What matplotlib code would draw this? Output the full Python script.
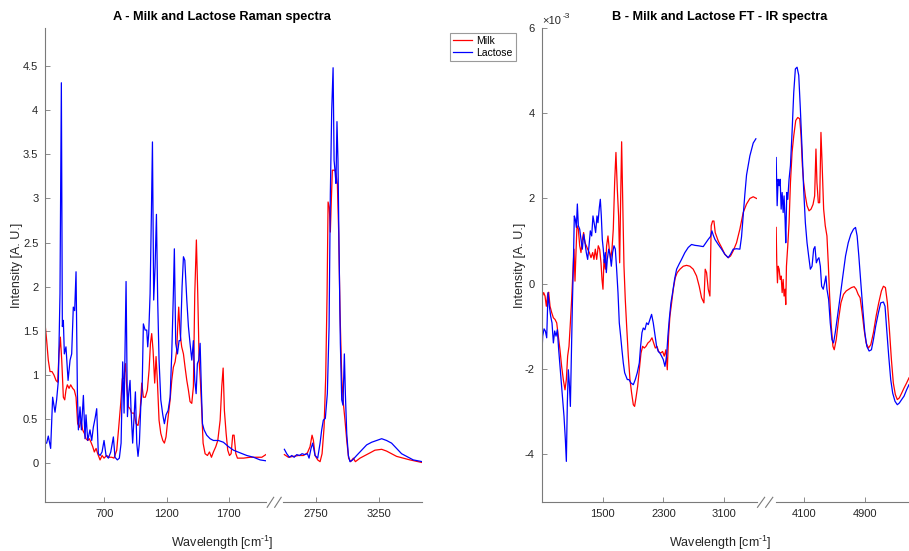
import numpy as np
import matplotlib
matplotlib.use('Agg')
import matplotlib.pyplot as plt
from matplotlib.lines import Line2D

plt.rcParams['font.family'] = ['Liberation Sans', 'DejaVu Sans']
plt.rcParams['axes.unicode_minus'] = False
plt.rcParams['mathtext.fontset'] = 'custom'
plt.rcParams['mathtext.rm'] = 'Liberation Sans'
plt.rcParams['mathtext.it'] = 'Liberation Sans:italic'
plt.rcParams['mathtext.bf'] = 'Liberation Sans:bold'

# ---- Raman (panel A) -------------------------------------------------------
raman_milk_x_lo = [224, 237, 250, 264, 280, 296, 312, 325, 336, 347,
                   358, 371, 382, 392, 403, 417, 430, 446, 459, 473,
                   486, 500, 513, 526, 540, 553, 567, 580, 593, 607,
                   620, 634, 647, 666, 682, 698, 719, 741, 760, 778,
                   800, 816, 832, 845, 856, 870, 880, 894, 907, 920,
                   939, 955, 971, 987, 1001, 1014, 1030, 1046, 1060, 1071,
                   1081, 1092, 1105, 1116, 1127, 1140, 1154, 1170, 1183, 1196,
                   1210, 1229, 1242, 1255, 1269, 1282, 1290, 1298, 1309, 1322,
                   1336, 1349, 1363, 1376, 1389, 1403, 1416, 1427, 1440, 1451,
                   1462, 1472, 1483, 1494, 1510, 1529, 1545, 1561, 1577, 1596,
                   1612, 1631, 1644, 1655, 1665, 1679, 1692, 1706, 1719, 1732,
                   1743, 1757, 1770, 1818, 1872, 1925, 1966, 1998]
raman_milk_y_lo = [1.58, 1.39, 1.17, 1.04, 1.04, 1.00, 0.94, 0.92, 1.24, 1.43,
                   1.17, 0.75, 0.72, 0.83, 0.89, 0.85, 0.89, 0.85, 0.83, 0.75,
                   0.45, 0.41, 0.49, 0.38, 0.34, 0.28, 0.26, 0.28, 0.24, 0.19,
                   0.13, 0.17, 0.11, 0.04, 0.09, 0.06, 0.09, 0.07, 0.07, 0.06,
                   0.15, 0.41, 0.68, 0.96, 0.96, 1.13, 0.87, 0.64, 0.62, 0.57,
                   0.57, 0.45, 0.43, 0.57, 0.91, 0.75, 0.75, 0.83, 1.06, 1.36,
                   1.47, 1.28, 0.91, 1.21, 0.92, 0.49, 0.34, 0.26, 0.23, 0.30,
                   0.49, 0.72, 0.94, 1.09, 1.15, 1.28, 1.55, 1.77, 1.47, 1.32,
                   1.24, 1.09, 0.94, 0.83, 0.70, 0.68, 0.87, 1.92, 2.53, 1.92,
                   1.17, 0.94, 0.60, 0.23, 0.11, 0.09, 0.13, 0.07, 0.13, 0.19,
                   0.26, 0.49, 0.87, 1.08, 0.60, 0.34, 0.15, 0.09, 0.11, 0.32,
                   0.32, 0.11, 0.06, 0.06, 0.07, 0.07, 0.07, 0.10]

raman_lact_x_lo = [224, 237, 250, 269, 285, 304, 317, 331, 344, 355,
                   363, 371, 379, 392, 409, 425, 438, 451, 462, 473,
                   484, 492, 505, 516, 532, 545, 553, 567, 585, 599,
                   612, 626, 639, 652, 666, 682, 698, 714, 733, 752,
                   773, 786, 805, 821, 835, 848, 859, 875, 886, 896,
                   907, 915, 928, 942, 950, 961, 971, 982, 993, 1004,
                   1014, 1028, 1041, 1049, 1057, 1068, 1079, 1087, 1097, 1108,
                   1119, 1129, 1140, 1154, 1170, 1183, 1196, 1213, 1229, 1242,
                   1255, 1263, 1274, 1288, 1301, 1312, 1325, 1336, 1347, 1363,
                   1376, 1389, 1403, 1416, 1427, 1438, 1448, 1459, 1470, 1481,
                   1489, 1502, 1523, 1550, 1577, 1617, 1657, 1698, 1738, 1791,
                   1845, 1899, 1952, 1998]
raman_lact_y_lo = [0.23, 0.23, 0.31, 0.17, 0.75, 0.58, 0.72, 0.94, 1.92, 4.31,
                   1.55, 1.62, 1.24, 1.32, 0.94, 1.17, 1.24, 1.77, 1.73, 2.17,
                   0.79, 0.38, 0.64, 0.38, 0.77, 0.28, 0.55, 0.26, 0.38, 0.26,
                   0.41, 0.51, 0.62, 0.11, 0.09, 0.13, 0.26, 0.09, 0.06, 0.13,
                   0.30, 0.07, 0.04, 0.06, 0.23, 1.15, 0.57, 2.06, 0.53, 0.79,
                   0.94, 0.60, 0.23, 0.60, 0.81, 0.23, 0.08, 0.23, 0.64, 0.83,
                   1.58, 1.51, 1.51, 1.32, 1.47, 1.92, 2.87, 3.64, 1.85, 2.22,
                   2.82, 1.85, 1.17, 0.72, 0.55, 0.45, 0.55, 0.60, 0.75, 1.24,
                   1.92, 2.43, 1.36, 1.24, 1.39, 1.39, 2.00, 2.34, 2.30, 1.85,
                   1.55, 1.36, 1.17, 1.39, 0.94, 0.79, 1.13, 1.17, 1.36, 0.79,
                   0.45, 0.38, 0.32, 0.28, 0.26, 0.26, 0.24, 0.19, 0.15, 0.12,
                   0.09, 0.07, 0.04, 0.03]

raman_milk_x_hi = [2497, 2529, 2569, 2609, 2649, 2681, 2702, 2718, 2729, 2742,
                   2763, 2782, 2798, 2814, 2827, 2838, 2846, 2856, 2864, 2872,
                   2880, 2891, 2901, 2909, 2920, 2931, 2941, 2955, 2968, 2981,
                   2995, 3010, 3026, 3048, 3064, 3101, 3141, 3181, 3220, 3274,
                   3313, 3353, 3393, 3446, 3500, 3598]
raman_milk_y_hi = [0.10, 0.07, 0.08, 0.09, 0.09, 0.12, 0.19, 0.32, 0.26, 0.09,
                   0.04, 0.02, 0.11, 0.41, 0.98, 1.92, 2.96, 2.90, 2.62, 2.98,
                   3.32, 3.32, 3.32, 3.28, 3.17, 2.60, 1.73, 0.98, 0.68, 0.49,
                   0.26, 0.06, 0.02, 0.06, 0.02, 0.06, 0.09, 0.12, 0.15, 0.16,
                   0.14, 0.11, 0.08, 0.06, 0.04, 0.01]

raman_lact_x_hi = [2497, 2516, 2537, 2556, 2575, 2596, 2617, 2638, 2660, 2681,
                   2694, 2710, 2723, 2742, 2763, 2782, 2795, 2808, 2824, 2840,
                   2854, 2864, 2875, 2886, 2894, 2901, 2909, 2917, 2925, 2933,
                   2944, 2955, 2965, 2976, 2984, 2995, 3008, 3021, 3042, 3074,
                   3114, 3154, 3194, 3234, 3274, 3313, 3353, 3393, 3433, 3473,
                   3526, 3598]
raman_lact_y_hi = [0.16, 0.11, 0.07, 0.09, 0.07, 0.10, 0.09, 0.11, 0.10, 0.11,
                   0.06, 0.17, 0.23, 0.09, 0.06, 0.23, 0.38, 0.49, 0.51, 0.79,
                   1.55, 3.05, 4.00, 4.48, 3.43, 3.32, 3.17, 3.87, 3.43, 2.49,
                   1.36, 0.72, 0.66, 1.24, 0.79, 0.34, 0.09, 0.02, 0.04, 0.09,
                   0.15, 0.21, 0.24, 0.26, 0.28, 0.26, 0.23, 0.17, 0.11, 0.08,
                   0.04, 0.02]

# ---- FT-IR (panel B), intensities in units of 1e-3 -------------------------
ftir_milk_x_lo = [700, 705, 722, 740, 757, 775, 788, 806, 828, 850,
                  872, 894, 915, 937, 959, 981, 1003, 1021, 1038, 1056,
                  1074, 1091, 1109, 1122, 1135, 1148, 1161, 1179, 1197, 1214,
                  1232, 1249, 1267, 1284, 1302, 1324, 1346, 1368, 1385, 1403,
                  1421, 1442, 1460, 1478, 1491, 1504, 1517, 1535, 1552, 1570,
                  1587, 1605, 1623, 1640, 1658, 1675, 1693, 1710, 1724, 1737,
                  1750, 1768, 1781, 1798, 1816, 1838, 1860, 1882, 1904, 1921,
                  1939, 1961, 1983, 2005, 2027, 2049, 2071, 2097, 2123, 2150,
                  2172, 2194, 2216, 2237, 2264, 2290, 2312, 2334, 2352, 2369,
                  2387, 2409, 2431, 2457, 2483, 2519, 2563, 2606, 2650, 2694,
                  2738, 2773, 2804, 2835, 2852, 2870, 2892, 2914, 2931, 2949,
                  2967, 2984, 3024, 3068, 3111, 3155, 3186, 3221, 3265, 3309,
                  3353, 3397, 3441, 3485, 3529]
ftir_milk_y_lo = [-0.60, -0.29, -0.21, -0.29, -0.53, -0.25, -0.20, -0.53, -0.68, -0.80,
                  -0.84, -0.92, -1.23, -1.55, -1.94, -2.25, -2.49, -2.25, -1.70, -1.47,
                  -0.92, -0.37, 0.34, 0.81, 0.06, 0.73, 1.36, 1.28, 0.89, 0.73,
                  1.04, 1.20, 0.96, 0.89, 0.81, 0.73, 0.61, 0.73, 0.57, 0.81,
                  0.57, 0.89, 0.81, 0.49, 0.10, -0.13, 0.57, 0.34, 0.89, 1.12,
                  0.81, 0.57, 0.81, 1.28, 2.38, 3.08, 2.22, 1.59, 0.49, 1.98,
                  3.33, 1.59, 0.41, -0.37, -0.99, -1.70, -2.25, -2.57, -2.84, -2.88,
                  -2.68, -2.41, -2.02, -1.63, -1.47, -1.51, -1.47, -1.39, -1.35, -1.27,
                  -1.39, -1.51, -1.47, -1.59, -1.63, -1.59, -1.70, -1.55, -2.02, -1.23,
                  -0.76, -0.45, -0.13, 0.14, 0.26, 0.34, 0.41, 0.43, 0.41, 0.34,
                  0.18, -0.06, -0.33, -0.45, 0.34, 0.26, -0.13, -0.29, 1.36, 1.47,
                  1.47, 1.20, 1.00, 0.85, 0.69, 0.61, 0.65, 0.77, 0.96, 1.28,
                  1.67, 1.87, 2.00, 2.04, 2.00]

ftir_lact_x_lo = [700, 709, 727, 744, 762, 779, 797, 814, 832, 850,
                  867, 885, 902, 920, 937, 955, 973, 990, 1008, 1021,
                  1034, 1047, 1060, 1074, 1087, 1100, 1113, 1126, 1139, 1153,
                  1166, 1179, 1197, 1214, 1232, 1249, 1267, 1284, 1302, 1320,
                  1337, 1355, 1372, 1390, 1407, 1425, 1438, 1456, 1469, 1482,
                  1495, 1508, 1522, 1535, 1548, 1561, 1579, 1596, 1614, 1631,
                  1649, 1667, 1684, 1702, 1719, 1737, 1754, 1772, 1790, 1807,
                  1825, 1847, 1873, 1904, 1930, 1956, 1983, 2000, 2018, 2035,
                  2057, 2079, 2101, 2123, 2145, 2167, 2189, 2211, 2233, 2255,
                  2277, 2299, 2321, 2343, 2360, 2378, 2400, 2422, 2448, 2475,
                  2505, 2540, 2584, 2628, 2672, 2716, 2760, 2826, 2861, 2892,
                  2923, 2940, 2958, 2980, 3024, 3068, 3111, 3155, 3186, 3221,
                  3265, 3309, 3331, 3353, 3375, 3397, 3441, 3485, 3520]
ftir_lact_y_lo = [-1.60, -1.23, -1.06, -1.11, -1.27, -0.21, -0.53, -0.76, -0.92, -1.39,
                  -1.11, -1.23, -1.08, -1.55, -1.94, -2.33, -2.72, -3.11, -3.66, -4.17,
                  -2.80, -2.02, -2.33, -2.88, -1.70, -0.53, 0.41, 1.59, 1.51, 1.32,
                  1.87, 1.36, 1.28, 1.04, 0.81, 1.16, 0.96, 0.73, 0.57, 0.89,
                  1.24, 1.12, 1.59, 1.40, 1.20, 1.59, 1.43, 1.79, 1.98, 1.59,
                  1.04, 0.81, 0.49, 0.73, 0.26, 0.57, 0.81, 0.69, 0.41, 0.73,
                  0.89, 0.81, 0.34, -0.21, -0.92, -1.23, -1.55, -1.86, -2.09, -2.17,
                  -2.25, -2.25, -2.33, -2.37, -2.25, -2.09, -1.86, -1.47, -1.15, -1.04,
                  -1.08, -0.92, -0.96, -0.84, -0.72, -0.92, -1.19, -1.47, -1.59, -1.63,
                  -1.70, -1.78, -1.94, -1.70, -1.23, -0.84, -0.45, -0.21, 0.10, 0.34,
                  0.45, 0.57, 0.73, 0.85, 0.92, 0.90, 0.89, 0.87, 0.96, 1.04,
                  1.11, 1.24, 1.14, 1.04, 0.92, 0.81, 0.69, 0.61, 0.69, 0.81,
                  0.82, 0.81, 1.10, 1.60, 2.10, 2.55, 3.00, 3.30, 3.40]

ftir_milk_x_hi = [3742, 3750, 3759, 3768, 3781, 3794, 3807, 3820, 3833, 3845,
                  3858, 3867, 3876, 3893, 3910, 3928, 3949, 3971, 3997, 4023,
                  4049, 4066, 4083, 4100, 4122, 4144, 4170, 4196, 4222, 4243,
                  4260, 4273, 4291, 4308, 4325, 4338, 4360, 4381, 4403, 4420,
                  4438, 4459, 4481, 4498, 4524, 4554, 4585, 4619, 4654, 4688,
                  4723, 4757, 4783, 4809, 4835, 4861, 4887, 4913, 4943, 4974,
                  5008, 5043, 5077, 5112, 5138, 5164, 5190, 5216, 5242, 5267,
                  5293, 5319, 5345, 5375, 5406, 5440, 5471]
ftir_milk_y_hi = [1.32, 0.49, 0.02, 0.41, 0.34, 0.10, 0.18, -0.21, 0.10, -0.29,
                  -0.13, -0.49, 0.41, 0.89, 1.43, 2.37, 3.08, 3.47, 3.83, 3.90,
                  3.87, 3.47, 2.77, 2.37, 2.06, 1.83, 1.71, 1.75, 1.86, 2.06,
                  3.16, 2.37, 1.90, 1.90, 3.55, 2.92, 1.75, 1.36, 1.12, 0.49,
                  -0.29, -0.99, -1.47, -1.55, -1.31, -0.84, -0.45, -0.25, -0.17, -0.13,
                  -0.09, -0.07, -0.13, -0.25, -0.33, -0.68, -1.08, -1.39, -1.51, -1.43,
                  -1.15, -0.76, -0.45, -0.17, -0.06, -0.09, -0.45, -1.08, -1.78, -2.33,
                  -2.60, -2.72, -2.68, -2.57, -2.45, -2.33, -2.21]

ftir_lact_x_hi = [3742, 3755, 3768, 3781, 3794, 3807, 3820, 3833, 3845, 3858,
                  3867, 3880, 3893, 3910, 3928, 3949, 3971, 3992, 4014, 4036,
                  4057, 4079, 4100, 4122, 4144, 4165, 4187, 4209, 4230, 4247,
                  4265, 4282, 4299, 4317, 4334, 4355, 4373, 4390, 4403, 4425,
                  4446, 4468, 4489, 4511, 4541, 4576, 4610, 4645, 4680, 4714,
                  4749, 4775, 4796, 4818, 4844, 4870, 4896, 4922, 4952, 4982,
                  5008, 5038, 5073, 5103, 5138, 5159, 5181, 5207, 5233, 5259,
                  5289, 5319, 5345, 5375, 5406, 5440, 5471]
ftir_lact_y_hi = [2.96, 1.83, 2.45, 2.30, 2.45, 1.75, 2.14, 1.67, 2.06, 1.51,
                  0.96, 2.14, 1.98, 2.45, 2.77, 3.55, 4.49, 5.04, 5.08, 4.89,
                  4.10, 3.16, 2.22, 1.43, 0.96, 0.65, 0.34, 0.41, 0.81, 0.87,
                  0.49, 0.57, 0.61, 0.41, -0.06, -0.13, 0.02, 0.18, -0.13, -0.37,
                  -0.92, -1.31, -1.39, -1.15, -0.76, -0.29, 0.18, 0.65, 0.96, 1.16,
                  1.28, 1.32, 1.12, 0.65, 0.02, -0.60, -1.15, -1.47, -1.58, -1.55,
                  -1.31, -0.99, -0.68, -0.45, -0.43, -0.53, -1.08, -1.70, -2.25, -2.57,
                  -2.76, -2.84, -2.80, -2.72, -2.64, -2.49, -2.37]

ftir_ticks = [-4, -2, 0, 2, 4, 6]

W, H = 909, 551
AX_COLOR = '#7a7a7a'
TXT_COLOR = '#262626'
MILK = '#ff0000'
LACT = '#0000ff'
LW = 0.9


def rect(x0, x1, top=28, bottom=502.3):
    return [x0 / W, 1 - bottom / H, (x1 - x0) / W, (bottom - top) / H]


def style(ax, left):
    for s in ('top', 'right'):
        ax.spines[s].set_visible(False)
    ax.spines['bottom'].set_color(AX_COLOR)
    ax.spines['left'].set_color(AX_COLOR)
    ax.spines['left'].set_visible(left)
    ax.tick_params(direction='in', length=3.5, width=0.6, colors=AX_COLOR,
                   labelcolor=TXT_COLOR, labelsize=8, pad=5)
    if not left:
        ax.tick_params(axis='y', left=False, labelleft=False)
    ax.patch.set_alpha(0)


def break_marks(fig, x0, x1, yc=502.3):
    w = (x1 - x0) / 2
    for i in range(2):
        a = x0 + i * w
        fig.add_artist(Line2D([(a + 0.5) / W, (a + w - 0.5) / W],
                              [1 - (yc + 5) / H, 1 - (yc - 5) / H],
                              color=AX_COLOR, lw=0.8))


fig = plt.figure(figsize=(W / 100, H / 100), dpi=100)

# Panel A
a_lo = fig.add_axes(rect(45.3, 265.7))
a_hi = fig.add_axes(rect(283, 422))
for ax in (a_lo, a_hi):
    ax.set_ylim(-0.44, 4.93)
a_lo.plot(raman_milk_x_lo, raman_milk_y_lo, color=MILK, lw=LW, label='Milk')
a_lo.plot(raman_lact_x_lo, raman_lact_y_lo, color=LACT, lw=LW, label='Lactose')
a_hi.plot(raman_milk_x_hi, raman_milk_y_hi, color=MILK, lw=LW)
a_hi.plot(raman_lact_x_hi, raman_lact_y_hi, color=LACT, lw=LW)
a_lo.set_xlim(226, 1997)
a_hi.set_xlim(2486, 3596)
a_lo.set_xticks([700, 1200, 1700])
a_hi.set_xticks([2750, 3250])
a_lo.set_yticks(np.arange(0, 4.51, 0.5))
a_lo.set_yticklabels(['0', '0.5', '1', '1.5', '2', '2.5', '3', '3.5', '4', '4.5'])
style(a_lo, True)
style(a_hi, False)
break_marks(fig, 266.7, 281.7)

# Panel B
b_lo = fig.add_axes(rect(541.7, 756.7))
b_hi = fig.add_axes(rect(776, 909))
for ax in (b_lo, b_hi):
    ax.set_ylim(-5.13e-3, 6.0e-3)
b_lo.plot(ftir_milk_x_lo, np.array(ftir_milk_y_lo) * 1e-3, color=MILK, lw=LW)
b_lo.plot(ftir_lact_x_lo, np.array(ftir_lact_y_lo) * 1e-3, color=LACT, lw=LW)
b_hi.plot(ftir_milk_x_hi, np.array(ftir_milk_y_hi) * 1e-3, color=MILK, lw=LW)
b_hi.plot(ftir_lact_x_hi, np.array(ftir_lact_y_hi) * 1e-3, color=LACT, lw=LW)
b_lo.set_xlim(696, 3531)
b_hi.set_xlim(3740, 5471)
b_lo.set_xticks([1500, 2300, 3100])
b_hi.set_xticks([4100, 4900])
b_lo.set_yticks(np.array(ftir_ticks) * 1e-3)
b_lo.set_yticklabels([str(t) for t in ftir_ticks])
style(b_lo, True)
style(b_hi, False)
break_marks(fig, 757, 773.3)
# exponent label, MATLAB style
fig.text(542 / W, 1 - 21 / H, '\u00d710', ha='left', va='center',
         fontsize=8, color=TXT_COLOR)
fig.text(563 / W, 1 - 16 / H, '-3', ha='left', va='center',
         fontsize=6, color=TXT_COLOR)

# titles and labels
fig.text(221.5 / W, 1 - 17 / H, 'A - Milk and Lactose Raman spectra',
         ha='center', va='center', fontsize=9.2, fontweight='bold', color='k')
fig.text(720 / W, 1 - 17 / H, 'B - Milk and Lactose FT - IR spectra',
         ha='center', va='center', fontsize=9.2, fontweight='bold', color='k')
for xc in (222, 720):
    fig.text(xc / W, 1 - 543 / H, r'Wavelength [cm$^{\text{-}1}$]',
             ha='center', va='center', fontsize=9, color=TXT_COLOR)
for xc in (17, 520):
    fig.text(xc / W, 1 - 265 / H, 'Intensity [A. U.]', ha='center',
             va='center', rotation=90, fontsize=9, color=TXT_COLOR)

handles, labels = a_lo.get_legend_handles_labels()
leg = fig.legend(handles, labels, loc='upper left',
                 bbox_to_anchor=(450 / W, 1 - 33 / H), fontsize=7.5,
                 fancybox=False, framealpha=1, edgecolor='#9a9a9a',
                 borderpad=0.3, handlelength=1.8, handletextpad=0.4,
                 labelspacing=0.15, borderaxespad=0)
leg.get_frame().set_linewidth(0.8)

fig.savefig('out.png', dpi=100)
